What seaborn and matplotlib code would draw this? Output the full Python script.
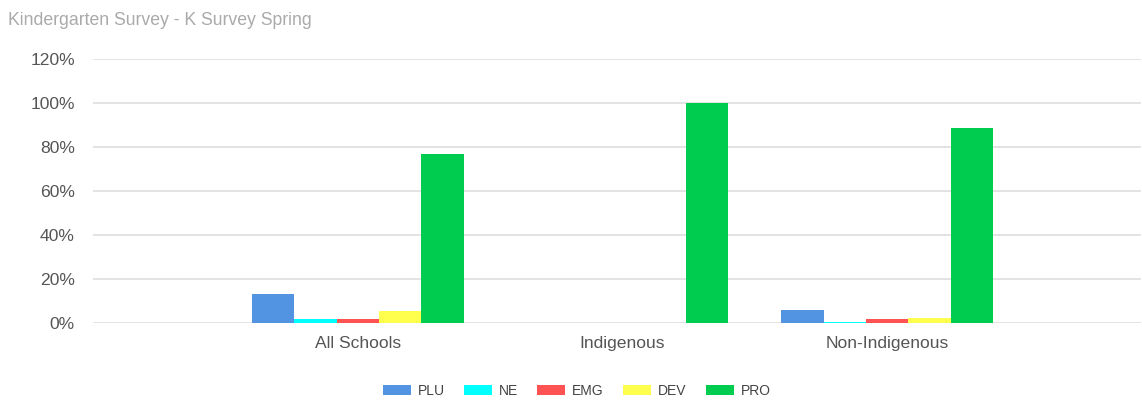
import pandas as pd
import matplotlib.pyplot as plt
import seaborn as sns

# === Data (percent) ===
groups = ["All Schools", "Indigenous", "Non-Indigenous"]
series = ["PLU", "NE", "EMG", "DEV", "PRO"]
plu = [13.4, 0, 5.8]
ne = [1.8, 0, 0.6]
emg = [1.8, 0, 1.7]
dev = [5.4, 0, 2.3]
pro = [77.0, 100.0, 88.6]
colors = ["#5294E2", "#00FFFF", "#FF5252", "#FFFF4D", "#00CC50"]

rows = []
for name, vals in zip(series, [plu, ne, emg, dev, pro]):
    for g, v in zip(groups, vals):
        rows.append({"group": g, "series": name, "value": v})
df = pd.DataFrame(rows)

# === Plot ===
sns.set_style("white")
plt.rcParams["font.family"] = ["Liberation Sans", "DejaVu Sans"]

fig = plt.figure(figsize=(11.42, 4.01), dpi=100)
ax = fig.add_axes([0.0814, 0.1945, 0.918, 0.6585])

sns.barplot(data=df, x="group", y="value", hue="series", order=groups,
            hue_order=series, palette=colors, width=0.8, saturation=1,
            linewidth=0, ax=ax, zorder=3)

ax.set_xlim(-1.0, 2.96)
ax.set_ylim(0, 120)
ax.set_yticks(range(0, 121, 20))
ax.set_yticklabels([f"{t}%" for t in range(0, 121, 20)])
ax.yaxis.grid(True, color="#e0e0e0", linewidth=1.3, zorder=0)
ax.set_axisbelow(True)
for s in ax.spines.values():
    s.set_visible(False)
ax.tick_params(axis="both", length=0, labelsize=12.6, colors="#555555")
ax.tick_params(axis="y", pad=13)
ax.tick_params(axis="x", pad=9)
ax.set_xlabel("")
ax.set_ylabel("")

fig.text(0.007, 0.948, "Kindergarten Survey - K Survey Spring", fontsize=12.7,
         color="#aaaaaa", ha="left", va="center")

handles, labels = ax.get_legend_handles_labels()
ax.legend(handles, labels, loc="center", bbox_to_anchor=(0.505, 0.025),
          bbox_transform=fig.transFigure, ncol=5, frameon=False,
          fontsize=10, handlelength=2.0, handleheight=0.8,
          columnspacing=1.4, handletextpad=0.5, labelcolor="#444444")

plt.savefig("out.png", dpi=100)
